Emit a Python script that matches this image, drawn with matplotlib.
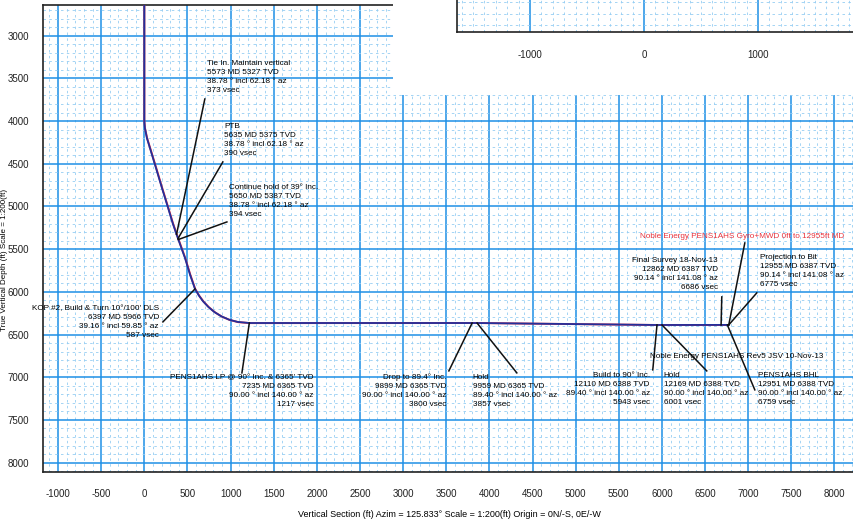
import matplotlib
matplotlib.use("Agg")
import matplotlib.pyplot as plt
from matplotlib.patches import Rectangle
from matplotlib.ticker import MultipleLocator

plt.rcParams["font.family"] = ["Liberation Sans", "DejaVu Sans"]
plt.rcParams["axes.unicode_minus"] = False

# --- well path (vertical section vs TVD) ---
# actual survey (Gyro+MWD)
svy_vsec = [0, 0, 6, 30, 75, 135, 200, 270, 330, 373, 390, 394, 470, 530, 587,
            630, 680, 740, 810, 890, 980, 1080, 1217, 3800, 3857, 5943, 6001, 6686, 6775]
svy_tvd = [2500, 4000, 4080, 4200, 4350, 4550, 4770, 5000, 5200, 5327, 5375, 5387, 5600, 5800, 5966,
           6040, 6110, 6175, 6235, 6285, 6325, 6352, 6365, 6365, 6365, 6388, 6388, 6387, 6387]
# plan Rev5
plan_vsec = [0, 0, 7, 32, 78, 138, 203, 273, 333, 376, 393, 397, 473, 533, 590,
             636, 688, 750, 822, 902, 992, 1090, 1225, 3800, 3857, 5943, 6001, 6759]
plan_tvd = [2500, 4000, 4080, 4200, 4350, 4550, 4770, 5000, 5200, 5327, 5375, 5387, 5600, 5800, 5966,
            6045, 6116, 6182, 6242, 6292, 6330, 6355, 6366, 6365, 6365, 6388, 6388, 6388]

# --- annotated stations ---
ann_vsec = [373, 390, 394, 587, 1217, 3800, 3857, 5943, 6001, 6759, 6686, 6775, 6775]
ann_tvd = [5327, 5375, 5387, 5966, 6365, 6365, 6365, 6388, 6388, 6388, 6387, 6387, 6387]
ann_text = [
    "Tie In. Maintain vertical\n5573 MD 5327 TVD\n38.78 ° incl 62.18 ° az\n373 vsec",
    "PTB\n5635 MD 5375 TVD\n38.78 ° incl 62.18 ° az\n390 vsec",
    "Continue hold of 39° Inc.\n5650 MD 5387 TVD\n38.78 ° incl 62.18 ° az\n394 vsec",
    "KOP #2, Build & Turn 10°/100' DLS\n6397 MD 5966 TVD\n39.16 ° incl 59.85 ° az\n587 vsec",
    "PENS1AHS LP @ 90° Inc. & 6365' TVD\n7235 MD 6365 TVD\n90.00 ° incl 140.00 ° az\n1217 vsec",
    "Drop to 89.4° Inc.\n9899 MD 6365 TVD\n90.00 ° incl 140.00 ° az\n3800 vsec",
    "Hold\n9959 MD 6365 TVD\n89.40 ° incl 140.00 ° az\n3857 vsec",
    "Build to 90° Inc.\n12110 MD 6388 TVD\n89.40 ° incl 140.00 ° az\n5943 vsec",
    "Hold\n12169 MD 6388 TVD\n90.00 ° incl 140.00 ° az\n6001 vsec",
    "PENS1AHS BHL\n12951 MD 6388 TVD\n90.00 ° incl 140.00 ° az\n6759 vsec",
    "Final Survey 18-Nov-13\n12862 MD 6387 TVD\n90.14 ° incl 141.08 ° az\n6686 vsec",
    "Projection to Bit\n12955 MD 6387 TVD\n90.14 ° incl 141.08 ° az\n6775 vsec",
    "Noble Energy PENS1AHS Gyro+MWD 0ft to 12955ft MD",
]
ann_color = ["black"] * 12 + ["#e8323c"]

# layout: text anchor (x, y, ha) and leader end
txt_pos = [(725, 3489, "left"), (923, 4227, "left"), (981, 4935, "left"),
           (169, 6352, "right"), (1964, 7166, "right"), (3507, 7160, "right"),
           (3808, 7160, "left"), (5860, 7143, "right"), (6021, 7143, "left"),
           (7111, 7143, "left"), (6648, 5796, "right"), (7135, 5755, "left"),
           (5744, 5357, "left")]
lead_end = [(701, 3741), (910, 4478), (957, 5181), (215, 6352), (1131, 6949),
            (3530, 6926), (4318, 6949), (5894, 6914), (6520, 6926), (7077, 7148),
            (6694, 6059), (7100, 6012), (6961, 5427)]

plan_label = "Noble Energy PENS1AHS Rev5 JSV 10-Nov-13"

MAJ = "#1e8fe6"
MIN = "#95cdf3"
FS = 5.9

fig = plt.figure(figsize=(8.54, 5.19), dpi=100)
ax = fig.add_axes([43 / 854, 47 / 519, 813 / 854, 467 / 519])
ax.set_xlim(-1175, 8250)
ax.set_ylim(8110, 2640)
ax.xaxis.set_major_locator(MultipleLocator(500))
ax.xaxis.set_minor_locator(MultipleLocator(100))
ax.yaxis.set_major_locator(MultipleLocator(500))
ax.yaxis.set_minor_locator(MultipleLocator(100))
ax.grid(which="major", color=MAJ, lw=1.1)
ax.grid(which="minor", color=MIN, lw=0.6, ls=(0, (3, 4)))
ax.set_axisbelow(True)
ax.tick_params(which="both", length=0, labelsize=7, colors="#222222")
ax.tick_params(axis="x", pad=12)
ax.tick_params(axis="y", pad=10)
ax.set_yticks(range(3000, 8001, 500))
ax.set_xticks(range(-1000, 8001, 500))
for s in ["left", "top", "bottom"]:
    ax.spines[s].set_color("#222222")
    ax.spines[s].set_linewidth(1.2)
ax.spines["right"].set_visible(False)

ax.plot(plan_vsec, plan_tvd, color="#e8323c", lw=1.4, zorder=3)
ax.plot(svy_vsec, svy_tvd, color="#23309c", lw=1.3, zorder=4)

for i, t in enumerate(ann_text):
    x, y, ha = txt_pos[i]
    ax.plot([ann_vsec[i], lead_end[i][0]], [ann_tvd[i], lead_end[i][1]],
            color="#111111", lw=1.1, zorder=5)
    ax.text(x, y, t, ha=ha, va="center", fontsize=FS, color=ann_color[i],
            linespacing=1.4, multialignment=ha, zorder=6)
ax.text(5860, 6762, plan_label, ha="left", va="center", fontsize=FS, zorder=6)

ax.set_xlabel("Vertical Section (ft) Azim = 125.833° Scale = 1:200(ft) Origin = 0N/-S, 0E/-W",
              fontsize=6.5, labelpad=8)
fig.text(4.5 / 854, 0.5, "True Vertical Depth (ft) Scale = 1:200(ft)", rotation=90,
         ha="center", va="center", fontsize=5.8)

# white panel holding the plan-view inset
fig.patches.append(Rectangle((393 / 854, 424 / 519), 1, 1, transform=fig.transFigure,
                             facecolor="white", edgecolor="none", zorder=1))

ins = fig.add_axes([457 / 854, 487 / 519, 443 / 854, 32 / 519], zorder=2)
ins.set_xlim(-1640, 2245)
ins.set_ylim(-60, 220)
ins.xaxis.set_major_locator(MultipleLocator(1000))
ins.xaxis.set_minor_locator(MultipleLocator(100))
ins.yaxis.set_major_locator(MultipleLocator(1000))
ins.yaxis.set_minor_locator(MultipleLocator(100))
ins.grid(which="major", color=MAJ, lw=1.1)
ins.grid(which="minor", color=MIN, lw=0.6, ls=(0, (3, 4)))
ins.set_axisbelow(True)
ins.set_xticks([-1000, 0, 1000])
ins.set_yticks([])
ins.tick_params(which="both", length=0, labelsize=7, colors="#222222", pad=13)
for s in ["left", "bottom"]:
    ins.spines[s].set_color("#222222")
    ins.spines[s].set_linewidth(1.2)
ins.spines["right"].set_visible(False)
ins.spines["top"].set_visible(False)

fig.savefig("out.png", dpi=100)
